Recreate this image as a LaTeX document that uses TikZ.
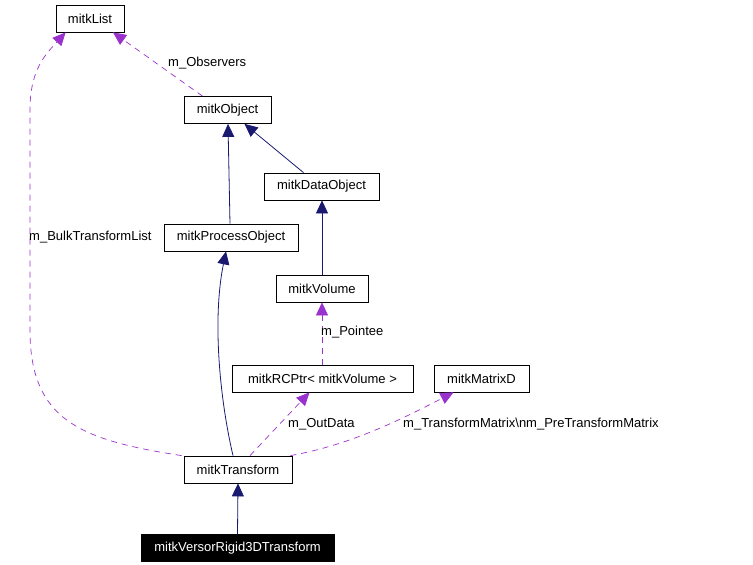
\documentclass[tikz,border=0pt]{standalone}
\usepackage{fontspec}
\setmainfont{Liberation Sans}
\usetikzlibrary{arrows.meta,calc}
\definecolor{dep}{HTML}{9A32CD}
\definecolor{inh}{HTML}{191970}
\begin{document}
\begin{tikzpicture}[x=1pt,y=-1pt,
  cls/.style={draw=black,fill=white,line width=0.8pt,inner sep=0pt,minimum height=27pt,font=\fontsize{13}{14}\selectfont},
  hl/.style={cls,fill=black,text=white},
  usage/.style={draw=dep,line width=0.7pt,dash pattern=on 6pt off 5pt,-{Triangle[length=13pt,width=12pt,fill=dep]}},
  inherit/.style={draw=inh,line width=0.8pt,-{Triangle[length=13pt,width=12pt,fill=inh]}},
  lbl/.style={font=\fontsize{13}{14}\selectfont,inner sep=0pt}]
\useasboundingbox (0,0) rectangle (753,565);
\node[cls,minimum width=68pt] (list) at (90,18.5) {mitkList};
\node[cls,minimum width=87pt] (obj) at (227.5,110) {mitkObject};
\node[cls,minimum width=115pt] (data) at (321.5,186.5) {mitkDataObject};
\node[cls,minimum width=134pt] (proc) at (231,237.5) {mitkProcessObject};
\node[cls,minimum width=92pt] (vol) at (322,288.5) {mitkVolume};
\node[cls,minimum width=181pt] (rc) at (322.5,378.5) {mitkRCPtr< mitkVolume >};
\node[cls,minimum width=95pt] (mat) at (481.5,378.5) {mitkMatrixD};
\node[cls,minimum width=108pt] (tr) at (238,469.5) {mitkTransform};
\node[hl,minimum width=193pt] (vr) at (237.5,548) {mitkVersorRigid3DTransform};
% inheritance
\draw[inherit] (vr.north) -- (tr.south);
\draw[inherit] ($(proc.north)+(-1,0)$) -- ($(obj.south)+(0.5,0)$);
\draw[inherit] ($(data.north)+(-18,0)$) -- ($(obj.south)+(17,0)$);
\draw[inherit] (vol.north) -- (vol.north |- data.south);
\draw[inherit] ($(tr.north)+(-5,0)$) .. controls (220,400) and (212,320) .. ($(proc.south)+(-5,0)$);
% usage
\draw[usage] ($(obj.north)+(-25,0)$) -- ($(list.south)+(23,0)$);
\draw[usage] ($(tr.north west)+(-2,0)$) .. controls (80,440) and (30,420) .. (30,330) -- (30,110) .. controls (30,70) and (45,55) .. ($(list.south west)+(10,0)$);
\draw[usage] (vol.south |- rc.north) -- (vol.south);
\draw[usage] ($(tr.north)+(12,0)$) -- ($(rc.south)+(-13,0)$);
\draw[usage] ($(tr.north east)+(-2,0)$) .. controls (350,445) and (400,420) .. ($(mat.south)+(-28,0)$);
% labels
\node[lbl,anchor=west] (lo) at (168,63) {m\_Observers};
\node[lbl,anchor=west] (lb) at (29,237) {m\_BulkTransformList};
\node[lbl,anchor=west] (lp) at (321,332) {m\_Pointee};
\node[lbl,anchor=west] (ld) at (288,424) {m\_OutData};
\node[lbl,anchor=west] (lm) at (403,424) {m\_TransformMatrix\textbackslash nm\_PreTransformMatrix};
\end{tikzpicture}
\end{document}
